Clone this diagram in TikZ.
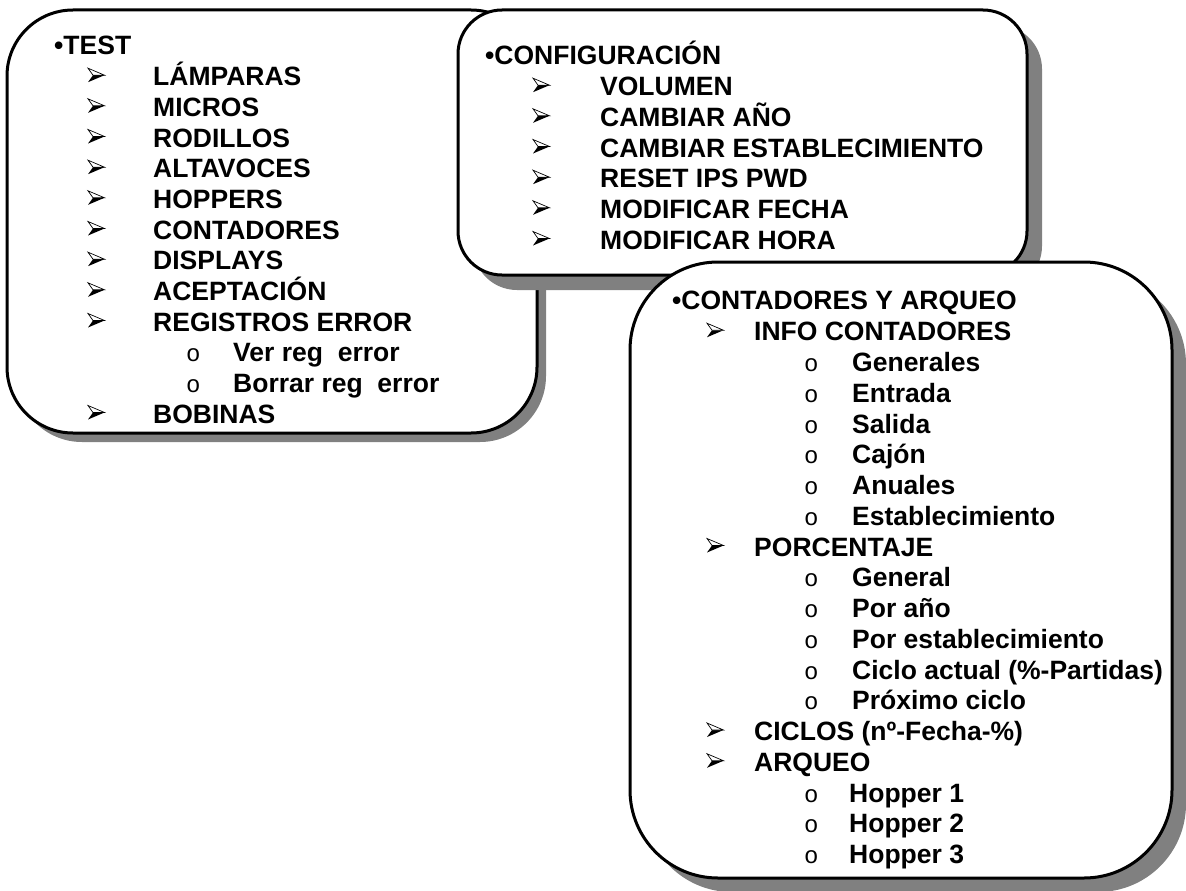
\documentclass[tikz,border=0pt]{standalone}
\usepackage{fontspec}
\setmainfont{Liberation Sans}
\newfontfamily\monof{Liberation Mono}
\definecolor{shadowgray}{RGB}{128,128,128}
\tikzset{
  card/.style={draw=black, line width=3pt, fill=white},
  cardshadow/.style={fill=shadowgray},
  lvl/.style={anchor=base west, inner sep=0pt, font=\bfseries\fontsize{26.5}{30}\selectfont},
  circmark/.style={anchor=base west, inner sep=0pt, font=\monof\fontsize{24}{24}\selectfont},
  dart/.pic={
    \fill[black, line join=miter] (5,0) -- (16.5,0) -- (0,7) -- cycle;
    \filldraw[fill=white, draw=black, line width=0.7pt, line join=miter] (0,-7) -- (16.5,0) -- (5,0) -- cycle;
  },
}
\newcommand{\mkarrow}[5]{\pic (#1m) at (#2,{#4-10.5}) {dart}; \node[lvl] (#1) at (#3,#4) {#5};}
\newcommand{\mkcirc}[5]{\node[circmark] (#1m) at (#2,#4) {o}; \node[lvl] (#1) at (#3,#4) {#5};}
\begin{document}
\begin{tikzpicture}[x=1pt,y=-1pt]
\useasboundingbox (0,0) rectangle (1186,891);
% ---------- Box 1: TEST ----------
\fill[cardshadow, rounded corners=66pt] (16,19) rectangle (546,442);
\draw[card, rounded corners=66pt] (7,10) rectangle (537,433);
\node[lvl] (test) at (54,55) {•TEST};
\mkarrow{t1}{88}{153}{85.7}{LÁMPARAS}
\mkarrow{t2}{88}{153}{116.3}{MICROS}
\mkarrow{t3}{88}{153}{147}{RODILLOS}
\mkarrow{t4}{88}{153}{177.7}{ALTAVOCES}
\mkarrow{t5}{88}{153}{208.3}{HOPPERS}
\mkarrow{t6}{88}{153}{239}{CONTADORES}
\mkarrow{t7}{88}{153}{269.7}{DISPLAYS}
\mkarrow{t8}{88}{153}{300.3}{ACEPTACIÓN}
\mkarrow{t9}{88}{153}{331}{REGISTROS ERROR}
\mkcirc{t10}{186}{233}{361.7}{Ver reg~~error}
\mkcirc{t11}{186}{233}{392.3}{Borrar reg~~error}
\mkarrow{t12}{88}{153}{423}{BOBINAS}
% ---------- Box 2: CONFIGURACION ----------
\fill[cardshadow, rounded corners=44pt] (473,25) rectangle (1042,290);
\draw[card, rounded corners=44pt] (458,10) rectangle (1027,275);
\node[lvl] (conf) at (485,65) {•CONFIGURACIÓN};
\mkarrow{c1}{533}{600}{95.7}{VOLUMEN}
\mkarrow{c2}{533}{600}{126.3}{CAMBIAR AÑO}
\mkarrow{c3}{533}{600}{157}{CAMBIAR ESTABLECIMIENTO}
\mkarrow{c4}{533}{600}{187.7}{RESET IPS PWD}
\mkarrow{c5}{533}{600}{218.3}{MODIFICAR FECHA}
\mkarrow{c6}{533}{600}{249}{MODIFICAR HORA}
% ---------- Box 3: CONTADORES Y ARQUEO ----------
\fill[cardshadow, rounded corners=88pt] (644,276) rectangle (1186,892);
\draw[card, rounded corners=88pt] (630,262) rectangle (1172,878);
\node[lvl] (cont) at (672,309) {•CONTADORES Y ARQUEO};
\mkarrow{a1}{707}{754}{340.75}{INFO CONTADORES}
\mkcirc{a2}{804}{852}{371.5}{Generales}
\mkcirc{a3}{804}{852}{402.25}{Entrada}
\mkcirc{a4}{804}{852}{433}{Salida}
\mkcirc{a5}{804}{852}{463.75}{Cajón}
\mkcirc{a6}{804}{852}{494.5}{Anuales}
\mkcirc{a7}{804}{852}{525.25}{Establecimiento}
\mkarrow{a8}{707}{754}{556}{PORCENTAJE}
\mkcirc{a9}{804}{852}{586.75}{General}
\mkcirc{a10}{804}{852}{617.5}{Por año}
\mkcirc{a11}{804}{852}{648.25}{Por establecimiento}
\mkcirc{a12}{804}{852}{679}{Ciclo actual (\%-Partidas)}
\mkcirc{a13}{804}{852}{709.75}{Próximo ciclo}
\mkarrow{a14}{707}{754}{740.5}{CICLOS (nº-Fecha-\%)}
\mkarrow{a15}{707}{754}{771.25}{ARQUEO}
\mkcirc{a16}{804}{849}{802}{Hopper 1}
\mkcirc{a17}{804}{849}{832.75}{Hopper 2}
\mkcirc{a18}{804}{849}{863.5}{Hopper 3}
\end{tikzpicture}
\end{document}
